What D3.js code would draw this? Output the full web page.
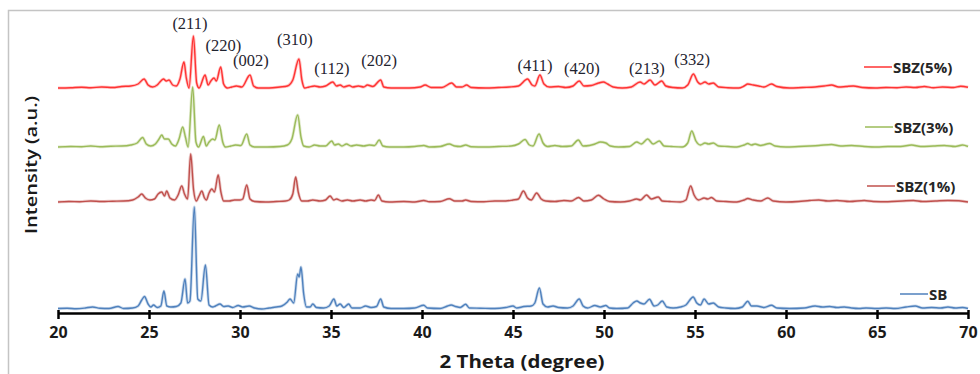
<!DOCTYPE html>
<html>
<head>
<meta charset="utf-8">
<script src="https://cdn.jsdelivr.net/npm/d3@7"></script>
<style>
  body { margin: 0; background: #fff; }
  svg { display: block; }
</style>
</head>
<body>
<svg id="chart" width="980" height="374"></svg>
<script>
// 2 theta range and ticks
const xDomain = [20, 70];
const xTicks = [20, 25, 30, 35, 40, 45, 50, 55, 60, 65, 70];

// series names, colours and vertical offsets (intensity units)
const seriesNames = ['SB', 'SBZ(1%)', 'SBZ(3%)', 'SBZ(5%)'];
const seriesColors = ['#4F81BD', '#C0504D', '#9BBB59', '#FF3333'];
const seriesOffsets = [4, 111, 166, 225];

// [2theta, intensity above own baseline]
const sb = [
  [20,0.5],[20.5,0.8],[21,0.3],[21.5,1],[21.9,2],[22.3,0.8],[22.8,0.5],[23.3,2.5],[23.6,0.5],[24.1,1],
  [24.4,3],[24.6,9],[24.75,12.5],[24.95,5],[25.1,2],[25.25,4],[25.45,1.5],[25.65,3],[25.82,18],[25.98,3],
  [26.2,2],[26.5,2.5],[26.75,6],[26.98,30],[27.12,6],[27.25,8],[27.49,102],[27.68,10],[27.85,8],[28.1,44],
  [28.3,4],[28.5,2],[28.65,3],[28.9,5],[29.1,2.5],[29.35,3],[29.6,1.5],[29.9,3.5],[30.15,2],[30.5,3],
  [30.8,1],[31.2,0],[31.6,1],[32.0,2],[32.3,3],[32.6,7],[32.75,10],[32.95,6],[33.17,35],[33.25,32],
  [33.35,42],[33.5,15],[33.65,2],[33.85,2],[34.0,5],[34.2,1.5],[34.6,1],[34.9,3],[35.16,10],[35.32,3],
  [35.5,5],[35.7,1.5],[35.97,5],[36.15,1],[36.6,1],[36.9,3],[37.2,1.5],[37.5,2.5],[37.73,10],[37.9,2],
  [38.3,0.5],[39,0.5],[39.6,1],[40.1,3.7],[40.3,1],[41,0.5],[41.4,3],[41.6,4],[41.85,2.5],[42.1,1.5],
  [42.4,4.7],[42.6,1],[43.2,0.8],[44,0.5],[44.6,1.5],[45.0,3],[45.2,1],[45.6,2.5],[46.0,3],[46.2,6],
  [46.45,21],[46.65,5],[46.9,2],[47.2,3],[47.5,1.5],[48.0,1],[48.3,3],[48.64,10],[48.85,3],[49.1,1],
  [49.5,3.5],[49.8,2],[50.1,3.5],[50.3,1],[50.7,0.5],[51.3,1],[51.6,6],[51.8,8],[52.0,6],[52.2,5],
  [52.5,9.7],[52.75,3],[52.95,4],[53.2,8],[53.45,2],[53.8,1],[54.2,2],[54.5,4],[54.9,12],[55.1,6],
  [55.3,4],[55.5,10],[55.75,5],[56.0,6],[56.3,2],[56.7,1],[57.2,0.5],[57.6,2],[57.9,7.7],[58.1,3],
  [58.4,3],[58.8,1.5],[59.2,3.7],[59.5,1],[60.2,0.5],[61,1],[61.6,3],[62,2],[62.4,2.5],[62.8,1.5],
  [63.2,2],[63.6,1],[64,0.5],[64.4,1],[65,0.5],[65.5,1],[66,0.5],[66.6,2],[67.1,3],[67.5,1],
  [68,1.5],[68.5,1],[68.9,2],[69.3,1],[69.7,1.5],[70,0.5]
];

const sbz1 = [
  [20,0],[20.6,0.5],[21.2,0.3],[21.8,1],[22.4,0.5],[23.0,0.8],[23.6,1],[24.1,2],[24.4,5],[24.6,8],
  [24.8,4],[25.05,2],[25.3,3],[25.5,8],[25.7,10],[25.85,6],[25.97,11],[26.15,4],[26.4,2],[26.6,7],
  [26.8,16],[26.95,8],[27.12,3],[27.29,48],[27.45,12],[27.6,1],[27.75,6],[27.9,11],[28.05,4],[28.15,2],
  [28.3,9],[28.45,13],[28.6,10],[28.8,27],[28.95,10],[29.1,1],[29.4,1],[29.7,2],[30.0,2],[30.15,3],
  [30.37,17],[30.55,3],[30.8,0.5],[31.4,0],[32.0,0.5],[32.5,1],[32.7,2],[32.9,8],[33.06,25],[33.2,10],
  [33.4,1],[33.7,1],[34.0,2],[34.4,1],[34.7,2],[34.95,6],[35.15,2],[35.3,3],[35.6,1],[35.9,2],
  [36.2,1],[36.6,2],[36.9,1],[37.2,2],[37.4,1.5],[37.6,7],[37.8,1],[38.2,0],[39,0.5],[39.6,0],
  [40.1,1.5],[40.4,0.3],[41,0.5],[41.5,3.3],[41.8,1],[42.2,1],[42.4,2],[42.7,0.5],[43.4,0.3],[44,1],
  [44.6,1],[45.0,2],[45.3,3],[45.57,11],[45.8,4],[46.0,2],[46.3,9],[46.55,3],[46.8,1],[47.3,0.5],
  [47.8,1.5],[48.2,1],[48.6,4.5],[48.9,1],[49.3,2],[49.69,6.7],[50.0,3],[50.3,0.5],[50.9,0],[51.4,1],
  [51.8,3],[52.0,2],[52.34,7],[52.6,3],[52.98,5],[53.2,1],[53.6,0.5],[54.2,0],[54.5,2],[54.76,16],
  [54.95,7],[55.2,2],[55.5,4],[55.7,3],[55.9,4.5],[56.2,1],[56.7,0.5],[57.3,0],[57.7,2],[57.9,3.5],
  [58.2,2],[58.6,1],[59.0,4],[59.3,1],[60,0],[60.7,0.5],[61.3,1.5],[61.8,2],[62.3,1],[62.8,1.5],
  [63.5,0.5],[64.3,1.5],[64.8,0.5],[65.6,0.3],[66.4,1],[67.0,1.5],[67.5,0.5],[68.2,1],[68.9,1.5],[69.5,1.2],
  [70,0]
];

const sbz3 = [
  [20,0],[20.7,0.5],[21.3,0.3],[21.8,1],[22.3,0.3],[22.9,0.8],[23.5,1],[24.0,2],[24.35,4],[24.65,9.5],
  [24.85,3],[25.1,1],[25.35,3],[25.55,8],[25.7,12],[25.85,8],[26.06,8],[26.25,3],[26.45,1],[26.65,8],
  [26.85,20],[27.0,10],[27.15,0],[27.4,60],[27.58,5],[27.72,0],[27.99,10.5],[28.15,1],[28.3,5],[28.5,8],
  [28.62,7],[28.86,22],[29.05,5],[29.2,0],[29.5,1],[29.75,2],[30.05,1.5],[30.37,13],[30.55,2],[30.8,0],
  [31.5,0],[32.2,0.5],[32.6,2],[32.85,8],[33.17,32],[33.35,10],[33.5,1],[33.8,0],[34.1,2],[34.4,1],
  [34.7,1],[35.04,6],[35.2,2],[35.4,3],[35.6,1],[35.85,3],[36.1,1],[36.4,2],[36.8,1],[37.1,2],
  [37.4,1.5],[37.65,7],[37.85,1],[38.2,0],[39,0],[39.6,0.5],[40.1,1.5],[40.4,0],[41.0,0.5],[41.5,3],
  [41.8,1],[42.1,0.5],[42.4,2],[42.7,0.3],[43.5,0],[44.2,0.5],[44.9,1],[45.3,3],[45.66,7.5],[45.9,2],
  [46.1,1],[46.43,13],[46.65,4],[46.9,0.5],[47.3,1.5],[47.7,0.5],[48.2,1],[48.59,7],[48.85,1],[49.2,1.5],
  [49.5,3],[49.8,5],[50.1,4],[50.35,1],[50.8,0],[51.4,0.5],[51.8,5],[52.05,3],[52.4,8],[52.7,3],
  [53.04,6],[53.3,1],[53.7,0.5],[54.3,0],[54.6,4],[54.82,16],[55.05,6],[55.3,2],[55.55,4],[55.75,3],
  [56.0,4],[56.3,1],[56.8,0.5],[57.3,0],[57.7,2],[57.9,3.5],[58.1,2],[58.3,3],[58.6,1.5],[59.1,3.5],
  [59.4,1],[60,0],[60.7,0.5],[61.3,1],[61.8,1.5],[62.5,2.5],[63,1],[63.6,1.5],[64.3,0.5],[65,0],
  [65.6,0.5],[66.3,0.5],[66.9,2],[67.4,0.5],[68.1,1],[68.7,1.5],[69.3,0.5],[69.7,2],[70,0.5]
];

const sbz5 = [
  [20,0],[20.7,0.3],[21.3,0.8],[21.8,0.3],[22.4,1],[23.0,0.5],[23.5,1.5],[24.0,2],[24.4,4],[24.73,9],
  [24.95,3],[25.2,1],[25.45,3],[25.65,7],[25.79,9],[25.95,7],[26.1,8],[26.3,3],[26.5,2],[26.7,9],
  [26.92,26],[27.05,10],[27.2,0],[27.44,52],[27.62,5],[27.75,0],[28.08,13],[28.25,3],[28.4,7],[28.57,10],
  [28.7,7],[28.94,21],[29.1,4],[29.3,0],[29.55,1],[29.8,2],[30.1,1],[30.55,13],[30.75,2],[31.0,0],
  [31.6,0],[32.2,1],[32.6,2],[32.9,8],[33.24,29],[33.4,8],[33.55,0],[33.8,1],[34.1,2],[34.4,1],
  [34.7,2],[35.1,6],[35.3,2],[35.5,3],[35.7,1],[36.0,2.5],[36.2,1],[36.5,2],[36.8,1],[37.0,3],
  [37.3,1.5],[37.73,8],[37.9,1],[38.3,0],[39.3,0],[39.9,1],[40.17,3],[40.5,0.5],[41.1,0.5],[41.63,5],
  [41.9,1],[42.2,1],[42.45,3],[42.7,0.5],[43.5,0],[44.2,0.5],[44.8,1],[45.3,2],[45.8,9],[46.05,3],
  [46.2,2],[46.48,13],[46.7,4],[47.0,1],[47.5,1.5],[47.9,0.5],[48.3,2],[48.64,7],[48.9,2],[49.3,2.5],
  [49.7,5],[49.96,6],[50.2,4],[50.5,1],[51.0,0],[51.5,1],[51.98,6],[52.2,4],[52.53,8],[52.8,3],
  [53.17,7],[53.4,2],[53.8,0.5],[54.3,0],[54.6,3],[54.91,14],[55.15,6],[55.3,4],[55.55,6],[55.75,4],
  [56.0,5],[56.3,1],[56.8,0.3],[57.4,0],[57.7,2],[57.9,4],[58.2,3],[58.5,2],[58.8,1],[59.2,4],
  [59.5,1.5],[60.2,0],[60.9,0.5],[61.6,1],[62.1,2],[62.5,3],[62.9,1],[63.3,1.5],[63.7,2],[64.2,0.5],
  [64.9,0],[65.5,0.5],[66.1,0.3],[66.6,1],[67.1,0.5],[67.6,1.5],[68.1,0.3],[68.6,1],[69.2,0.5],[69.6,1.8],
  [70,0.8]
];

// peak labels: text, 2theta, intensity (in the plot's stacked units)
const peakLabels = ['(211)', '(220)', '(002)', '(310)', '(112)', '(202)', '(411)', '(420)', '(213)', '(332)'];
const peakTheta  = [27.25, 29.09, 30.6, 33.02, 35.05, 37.64, 46.21, 48.79, 52.36, 54.84];
const peakY      = [284, 262, 247, 268, 239, 247, 242, 239, 239, 248];

const seriesData = [sb, sbz1, sbz3, sbz5];

const svg = d3.select('#chart');
const margin = { left: 58, right: 12, top: 13, bottom: 61 };
const width = 980, height = 374;
const sansFont = '"Open Sans", "Liberation Sans", sans-serif';

const x = d3.scaleLinear().domain(xDomain).range([margin.left, width - margin.right]);
const y = d3.scaleLinear().domain([0, 300]).range([height - margin.bottom, margin.top]);

// outer frame
svg.append('path')
  .attr('d', 'M8.5,374 V10.5 H980')
  .attr('fill', 'none')
  .attr('stroke', '#c4c4c4')
  .attr('stroke-width', 1.5);

const line = (offset) => d3.line()
  .x((d) => x(d[0]))
  .y((d) => y(d[1] + offset))
  .curve(d3.curveMonotoneX);

const gLines = svg.append('g').attr('fill', 'none').attr('stroke-linejoin', 'round');

seriesData.forEach((data, i) => {
  gLines.append('path')
    .attr('d', line(seriesOffsets[i])(data))
    .attr('stroke', seriesColors[i])
    .attr('stroke-opacity', 0.3)
    .attr('stroke-width', 3);
  gLines.append('path')
    .attr('d', line(seriesOffsets[i])(data))
    .attr('stroke', seriesColors[i])
    .attr('stroke-width', 1.4);
});

// x axis
const xAxis = svg.append('g')
  .attr('transform', `translate(0,${y(0)})`)
  .call(d3.axisBottom(x).tickValues(xTicks).tickSize(6).tickSizeOuter(0).tickPadding(8));

xAxis.select('.domain').attr('stroke', '#000').attr('stroke-width', 2.5);
xAxis.selectAll('.tick line').attr('stroke', '#000').attr('stroke-width', 2.5).attr('y1', -3);
xAxis.selectAll('.tick text')
  .attr('fill', '#1a1a1a')
  .style('font-family', sansFont)
  .style('font-weight', 'bold')
  .style('font-size', '16px');

svg.append('text')
  .attr('x', 522)
  .attr('y', 368)
  .attr('text-anchor', 'middle')
  .attr('textLength', 165)
  .attr('lengthAdjust', 'spacingAndGlyphs')
  .style('font-family', sansFont)
  .style('font-weight', 'bold')
  .style('font-size', '17px')
  .attr('fill', '#1a1a1a')
  .text('2 Theta (degree)');

svg.append('text')
  .attr('transform', 'translate(37,165) rotate(-90)')
  .attr('text-anchor', 'middle')
  .attr('textLength', 138)
  .attr('lengthAdjust', 'spacingAndGlyphs')
  .style('font-family', sansFont)
  .style('font-weight', '600')
  .style('font-size', '16px')
  .attr('fill', '#1a1a1a')
  .text('Intensity (a.u.)');

// peak labels
svg.append('g')
  .selectAll('text')
  .data(peakLabels)
  .join('text')
  .attr('x', (d, i) => x(peakTheta[i]))
  .attr('y', (d, i) => y(peakY[i]))
  .attr('text-anchor', 'middle')
  .style('font-family', '"Liberation Serif", "DejaVu Serif", serif')
  .style('font-size', '16.5px')
  .attr('fill', '#1f2430')
  .text((d) => d);

// legend, next to each curve
const legendY = [19, 127, 186, 246];
const legendX = [900, 867, 865, 864];
const legend = svg.append('g');
seriesNames.forEach((name, i) => {
  const ly = y(legendY[i]);
  const lx = legendX[i];
  legend.append('line')
    .attr('x1', lx).attr('x2', lx + 28)
    .attr('y1', ly).attr('y2', ly)
    .attr('stroke', seriesColors[i])
    .attr('stroke-width', 1.5);
  legend.append('text')
    .attr('x', lx + 29)
    .attr('y', ly + 5.5)
    .style('font-family', sansFont)
    .style('font-weight', 'bold')
    .style('font-size', '15px')
    .attr('fill', '#262626')
    .text(name);
});
</script>
</body>
</html>
